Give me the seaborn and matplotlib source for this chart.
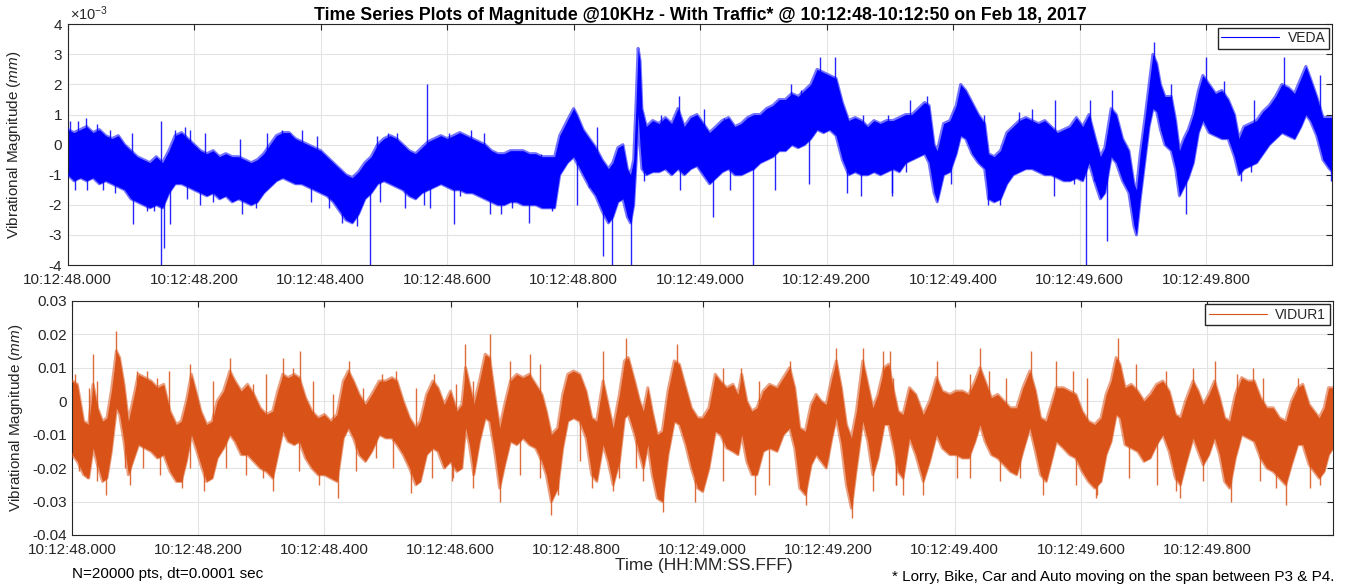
import numpy as np
import pandas as pd
import matplotlib
matplotlib.use("Agg")
import matplotlib.pyplot as plt
import seaborn as sns
from matplotlib.lines import Line2D

# ---------------- text ----------------
title = "Time Series Plots of Magnitude @10KHz - With Traffic* @ 10:12:48-10:12:50 on Feb 18, 2017"
xlabel = "Time (HH:MM:SS.FFF)"
ylabel = r"Vibrational Magnitude ($\it{mm}$)"
note_left = "N=20000 pts, dt=0.0001 sec"
note_right = "* Lorry, Bike, Car and Auto moving on the span between P3 & P4."
x_ticks = [0.0, 0.2, 0.4, 0.6, 0.8, 1.0, 1.2, 1.4, 1.6, 1.8]
x_tick_labels = ["10:12:48.000", "10:12:48.200", "10:12:48.400", "10:12:48.600",
                 "10:12:48.800", "10:12:49.000", "10:12:49.200", "10:12:49.400",
                 "10:12:49.600", "10:12:49.800"]
veda_yticks = [-4, -3, -2, -1, 0, 1, 2, 3, 4]
vidur_yticks = [-0.04, -0.03, -0.02, -0.01, 0, 0.01, 0.02, 0.03]
vidur_ytick_labels = ["-0.04", "-0.03", "-0.02", "-0.01", "0", "0.01", "0.02", "0.03"]

# ---------------- VEDA (units of 1e-3 mm): envelope of the dense band ----------------
veda_t = [0.000, 0.010, 0.020, 0.030, 0.040, 0.050, 0.060, 0.070, 0.080, 0.090,
          0.100, 0.110, 0.120, 0.130, 0.140, 0.150, 0.160, 0.170, 0.180, 0.190,
          0.200, 0.210, 0.220, 0.230, 0.240, 0.250, 0.260, 0.270, 0.280, 0.290,
          0.300, 0.310, 0.320, 0.330, 0.340, 0.350, 0.360, 0.370, 0.380, 0.390,
          0.400, 0.410, 0.420, 0.430, 0.440, 0.450, 0.460, 0.470, 0.480, 0.490,
          0.500, 0.510, 0.520, 0.530, 0.540, 0.550, 0.560, 0.570, 0.580, 0.590,
          0.600, 0.610, 0.620, 0.630, 0.640, 0.650, 0.660, 0.670, 0.680, 0.690,
          0.700, 0.710, 0.720, 0.730, 0.740, 0.750, 0.760, 0.770, 0.778, 0.790,
          0.800, 0.805, 0.815, 0.825, 0.835, 0.845, 0.855, 0.862, 0.870, 0.878,
          0.885, 0.890, 0.895, 0.899, 0.902, 0.905, 0.908, 0.915, 0.925, 0.935,
          0.945, 0.955, 0.965, 0.975, 0.985, 0.995, 1.005, 1.015, 1.025, 1.035,
          1.045, 1.055, 1.065, 1.075, 1.085, 1.095, 1.105, 1.115, 1.125, 1.135,
          1.145, 1.155, 1.165, 1.175, 1.185, 1.195, 1.205, 1.215, 1.225, 1.235,
          1.245, 1.255, 1.265, 1.275, 1.285, 1.295, 1.305, 1.315, 1.325, 1.335,
          1.345, 1.355, 1.362, 1.370, 1.375, 1.385, 1.395, 1.405, 1.412, 1.420,
          1.430, 1.440, 1.450, 1.456, 1.465, 1.475, 1.485, 1.495, 1.505, 1.515,
          1.525, 1.535, 1.545, 1.555, 1.565, 1.575, 1.585, 1.595, 1.605, 1.615,
          1.625, 1.633, 1.640, 1.650, 1.658, 1.668, 1.678, 1.686, 1.690, 1.696,
          1.703, 1.710, 1.716, 1.722, 1.728, 1.735, 1.745, 1.752, 1.758, 1.765,
          1.772, 1.780, 1.788, 1.795, 1.805, 1.815, 1.825, 1.835, 1.845, 1.852,
          1.860, 1.870, 1.880, 1.890, 1.900, 1.910, 1.920, 1.930, 1.940, 1.950,
          1.958, 1.965, 1.975, 1.985, 1.995, 2.000]
veda_upper = [0.5, 0.4, 0.5, 0.6, 0.4, 0.5, 0.3, 0.2, 0.3, 0.0,
              -0.2, -0.4, -0.5, -0.6, -0.4, -0.6, -0.2, 0.3, 0.4, 0.2,
              0.0, -0.2, -0.3, -0.2, -0.4, -0.3, -0.4, -0.4, -0.5, -0.6,
              -0.5, -0.3, 0.0, 0.3, 0.4, 0.4, 0.2, 0.1, 0.0, -0.1,
              -0.2, -0.4, -0.6, -0.8, -1.0, -1.1, -0.9, -0.6, -0.4, 0.0,
              0.2, 0.3, 0.2, 0.0, -0.2, -0.3, -0.1, 0.1, 0.2, 0.3,
              0.2, 0.3, 0.4, 0.3, 0.2, 0.1, 0.0, -0.2, -0.3, -0.3,
              -0.2, -0.2, -0.2, -0.3, -0.3, -0.4, -0.4, -0.4, 0.3, 0.8,
              1.2, 1.0, 0.5, 0.2, -0.1, -0.5, -0.8, -0.6, -0.1, 0.0,
              -0.8, -1.0, -0.5, 1.5, 3.2, 2.8, 1.2, 0.6, 0.8, 0.7,
              0.9, 0.7, 1.2, 0.6, 0.9, 1.0, 0.7, 0.4, 0.6, 0.8,
              0.9, 0.6, 0.7, 0.9, 1.0, 1.0, 1.2, 1.3, 1.5, 1.5,
              1.7, 1.6, 1.8, 2.0, 2.5, 2.4, 2.3, 2.2, 1.4, 0.8,
              0.9, 0.8, 0.6, 0.8, 0.7, 0.8, 0.8, 0.9, 1.0, 1.0,
              1.2, 1.4, 1.3, 0.0, -0.2, 0.7, 0.8, 1.3, 2.0, 1.8,
              1.4, 1.0, 0.7, -0.3, -0.4, -0.2, 0.4, 0.6, 0.8, 0.9,
              0.8, 0.7, 0.8, 0.6, 0.4, 0.5, 0.6, 0.9, 0.6, 1.0,
              0.2, -0.4, -0.1, 1.2, 1.0, 0.2, -0.2, -1.3, -1.5, -0.3,
              0.8, 2.0, 3.0, 2.7, 2.0, 1.6, 1.6, 0.8, -0.2, 0.2,
              0.5, 1.0, 1.8, 2.3, 2.0, 1.7, 1.8, 1.5, 1.0, 0.2,
              0.6, 0.7, 0.8, 1.1, 1.3, 1.6, 2.0, 1.9, 1.7, 2.2,
              2.6, 2.2, 1.6, 0.9, 0.9, 0.9]
veda_lower = [-1.0, -1.2, -1.1, -1.2, -1.1, -1.3, -1.2, -1.3, -1.4, -1.5,
              -1.8, -1.9, -2.0, -2.1, -2.0, -2.1, -1.6, -1.3, -1.3, -1.4,
              -1.5, -1.6, -1.7, -1.6, -1.8, -1.7, -1.9, -1.8, -1.9, -2.0,
              -1.9, -1.6, -1.4, -1.2, -1.1, -1.2, -1.3, -1.3, -1.4, -1.5,
              -1.6, -1.7, -1.9, -2.2, -2.5, -2.6, -2.3, -1.8, -1.6, -1.3,
              -1.2, -1.3, -1.4, -1.5, -1.7, -1.8, -1.6, -1.5, -1.4, -1.3,
              -1.4, -1.5, -1.5, -1.6, -1.6, -1.7, -1.8, -1.9, -2.0, -2.0,
              -1.9, -1.9, -2.0, -2.0, -2.0, -2.1, -2.1, -2.1, -1.0, -0.6,
              -0.4, -0.6, -1.0, -1.4, -1.7, -2.2, -2.6, -2.4, -1.9, -1.8,
              -2.4, -2.6, -2.0, -0.5, 1.0, 0.0, -0.8, -1.0, -0.9, -0.9,
              -0.8, -1.0, -0.8, -1.0, -0.8, -0.7, -1.0, -1.3, -1.1, -0.9,
              -0.8, -1.0, -1.0, -0.9, -0.8, -0.6, -0.5, -0.4, -0.2, -0.2,
              0.0, -0.1, 0.0, 0.2, 0.5, 0.4, 0.5, 0.3, -0.5, -1.0,
              -0.9, -1.0, -1.0, -0.9, -1.0, -0.9, -0.8, -0.9, -0.6, -0.5,
              -0.4, -0.3, -0.6, -1.6, -1.9, -1.0, -0.9, -0.3, 0.3, 0.2,
              -0.3, -0.6, -0.8, -1.8, -1.9, -1.8, -1.3, -1.0, -0.9, -0.8,
              -0.8, -0.9, -1.0, -1.0, -1.1, -1.2, -1.2, -1.1, -1.2, -0.6,
              -1.3, -1.8, -1.6, -0.4, -0.6, -1.2, -1.6, -2.7, -3.0, -1.8,
              -0.6, 0.6, 1.2, 1.1, 0.5, 0.0, -0.2, -0.8, -1.7, -1.4,
              -1.1, -0.6, 0.4, 0.8, 0.4, 0.3, 0.2, 0.2, -0.4, -1.0,
              -0.8, -0.7, -0.6, -0.3, 0.0, 0.2, 0.4, 0.3, 0.2, 0.6,
              1.0, 0.8, 0.3, -0.5, -0.8, -0.9]
# isolated spikes and hair tips beyond the dense band (time, tip value)
veda_spike_t = [0.103, 0.147, 0.148, 0.1525, 0.4776, 0.5684, 0.611, 0.685, 0.730,
                0.806, 0.846, 0.860, 0.890, 0.966, 1.020, 1.0844, 1.173, 1.233,
                1.559, 1.610, 1.644, 1.769,
                0.004, 0.016, 0.029, 0.046, 0.067, 0.101, 0.170, 0.186, 0.194, 0.217,
                0.273, 0.315, 0.339, 0.352, 0.370, 0.394, 0.489, 0.507, 0.521, 0.603,
                0.012, 0.030, 0.056, 0.075, 0.125, 0.137, 0.162, 0.188, 0.210, 0.230,
                0.276, 0.297, 0.384, 0.413, 0.434, 0.458, 0.494, 0.533, 0.563, 0.573,
                0.637, 0.658, 0.748, 0.837, 0.917, 0.938, 1.006, 1.038, 1.080, 1.104,
                1.144, 1.160, 1.190, 1.214, 1.257, 1.297,
                0.620, 0.668, 0.703, 0.766, 0.824, 0.911, 0.969, 1.048, 1.118, 1.254, 1.304,
                1.332, 1.359, 1.449, 1.504, 1.525, 1.562, 1.617, 1.652, 1.718, 1.744,
                1.800, 1.828, 1.876, 1.923, 1.981,
                1.303, 1.325, 1.396, 1.456, 1.475, 1.591, 1.623, 1.670, 1.855, 1.871, 1.997]
veda_spike_v = [-2.65, 0.8, -4.0, -3.45, -4.0, 2.0, -2.65, -2.3, -2.6,
                -2.0, -3.7, -4.0, -4.0, 1.6, -2.4, -4.0, -1.3, -1.6,
                -1.7, -4.0, -3.2, -2.3,
                0.8, 0.8, 0.9, 0.7, 0.5, 0.4, 0.5, 0.6, 0.5, 0.4,
                0.2, 0.4, 0.5, 0.4, 0.5, 0.3, 0.3, 0.4, 0.4, 0.4,
                -1.5, -1.5, -1.5, -1.6, -2.2, -2.2, -2.65, -1.8, -2.0, -1.9,
                -2.3, -2.1, -1.9, -2.1, -2.6, -2.7, -1.9, -2.1, -2.0, -2.1,
                0.5, 0.4, -0.3, 0.6, 0.6, 1.0, 1.2, 0.9, 0.9, 1.0,
                2.0, 1.8, 2.9, 2.9, 1.0, 1.0,
                -1.7, -2.3, -2.1, -2.2, -1.4, -1.2, -1.5, -1.5, -1.5, -1.7, -1.7,
                1.5, 1.6, 1.0, 1.1, 1.2, 1.5, 1.5, 1.8, 3.4, 2.0,
                2.9, 2.1, 1.5, 2.9, 2.3,
                -1.6, -0.9, -1.3, -2.0, -2.0, -1.3, -1.2, -1.2, -1.2, -0.9, -1.2]

# ---------------- VIDUR1 (units of 0.01 mm): envelope of the dense band ----------------
vidur_t = [0.000, 0.008, 0.018, 0.026, 0.033, 0.040, 0.048, 0.055, 0.062, 0.070,
           0.075, 0.082, 0.089, 0.096, 0.105, 0.115, 0.125, 0.135, 0.145, 0.155,
           0.165, 0.173, 0.181, 0.189, 0.196, 0.204, 0.213, 0.222, 0.230, 0.240,
           0.250, 0.258, 0.268, 0.278, 0.288, 0.298, 0.308, 0.318, 0.326, 0.334,
           0.342, 0.352, 0.360, 0.370, 0.380, 0.390, 0.400, 0.410, 0.420, 0.430,
           0.438, 0.446, 0.455, 0.465, 0.475, 0.487, 0.497, 0.507, 0.515, 0.525,
           0.535, 0.545, 0.552, 0.562, 0.572, 0.580, 0.590, 0.600, 0.610, 0.618,
           0.624, 0.630, 0.637, 0.646, 0.655, 0.662, 0.670, 0.678, 0.686, 0.695,
           0.705, 0.715, 0.725, 0.735, 0.745, 0.752, 0.760, 0.770, 0.778, 0.786,
           0.795, 0.805, 0.815, 0.824, 0.832, 0.842, 0.850, 0.858, 0.868, 0.876,
           0.882, 0.892, 0.900, 0.906, 0.913, 0.920, 0.928, 0.936, 0.945, 0.955,
           0.963, 0.973, 0.982, 0.992, 1.000, 1.010, 1.020, 1.028, 1.038, 1.048,
           1.056, 1.062, 1.070, 1.078, 1.086, 1.096, 1.106, 1.118, 1.128, 1.138,
           1.146, 1.154, 1.163, 1.172, 1.180, 1.188, 1.196, 1.205, 1.212, 1.220,
           1.228, 1.236, 1.244, 1.254, 1.262, 1.270, 1.278, 1.288, 1.295, 1.303,
           1.310, 1.318, 1.328, 1.338, 1.350, 1.360, 1.371, 1.380, 1.392, 1.402,
           1.412, 1.422, 1.432, 1.440, 1.448, 1.458, 1.468, 1.478, 1.488, 1.498,
           1.508, 1.519, 1.528, 1.536, 1.545, 1.553, 1.561, 1.572, 1.582, 1.592,
           1.602, 1.612, 1.622, 1.632, 1.640, 1.648, 1.656, 1.662, 1.670, 1.680,
           1.690, 1.700, 1.710, 1.720, 1.730, 1.740, 1.750, 1.758, 1.766, 1.778,
           1.786, 1.794, 1.803, 1.812, 1.820, 1.828, 1.836, 1.845, 1.855, 1.865,
           1.875, 1.885, 1.895, 1.905, 1.915, 1.925, 1.934, 1.944, 1.952, 1.962,
           1.970, 1.978, 1.986, 1.993, 2.000]
vidur_upper = [0.6, 0.5, -0.6, -0.7, 0.5, -0.2, -0.6, -0.5, 0.3, 1.5,
               1.3, 0.5, -0.6, 0.0, 0.8, 0.7, 0.6, 0.4, 0.5, -0.3,
               -0.7, -0.6, 0.0, 0.8, 0.3, -0.3, -0.7, -0.6, 0.0, 0.3,
               0.9, 0.6, 0.3, 0.5, 0.2, -0.2, -0.4, -0.3, 0.3, 0.8,
               0.7, 0.8, 0.7, 0.1, -0.3, -0.5, -0.4, -0.6, -0.4, 0.6,
               0.9, 0.6, 0.2, -0.1, 0.2, 0.6, 0.6, 0.7, 0.6, 0.0,
               -0.5, -0.8, -0.6, 0.2, 0.6, 0.4, -0.1, 0.3, -0.3, -0.1,
               1.0, 0.5, -0.1, 0.6, 1.4, 1.3, 0.2, -0.8, -0.1, 0.6,
               0.8, 0.7, 0.8, 0.5, 0.2, -0.3, -1.0, -0.8, 0.2, 0.8,
               0.9, 0.8, 0.3, -0.5, -0.6, 0.6, -0.1, -0.8, 0.2, 1.2,
               1.3, 0.6, 0.0, -0.3, 0.4, -0.3, -1.0, -0.9, 0.3, 1.2,
               1.1, 0.4, -0.2, -0.5, -0.5, -0.2, 0.8, 0.6, 0.4, 0.5,
               0.2, 0.8, 0.0, -0.3, -0.2, 0.3, 0.5, 0.4, 0.7, 1.0,
               0.4, -0.8, -0.9, -0.1, 0.2, 0.0, -0.1, 0.7, 1.2, 0.4,
               -0.7, -1.1, -0.3, 1.2, 0.5, -0.2, 0.2, 1.0, 1.1, 0.3,
               -0.3, -0.4, 0.4, 0.2, -0.4, 0.0, 0.7, 0.3, 0.2, 0.3,
               0.3, 0.2, 0.6, 1.0, 0.6, 0.1, 0.2, 0.0, -0.2, -0.2,
               0.4, 0.9, 0.3, -0.5, -0.6, -0.1, 0.4, 0.4, 0.3, 0.2,
               -0.3, -0.6, -0.7, -0.5, 0.2, 0.6, 1.3, 1.1, 0.4, 0.5,
               0.3, 0.0, 0.2, 0.5, 0.6, 0.3, -0.4, -0.5, 0.0, 0.6,
               0.3, -0.1, 0.2, 0.6, 0.1, -0.5, -0.6, 0.2, 0.7, 0.6,
               0.6, 0.1, -0.2, -0.2, -0.5, -0.6, 0.0, 0.4, 0.5, -0.1,
               -0.3, -0.5, -0.2, 0.4, 0.4]
vidur_lower = [-1.6, -1.8, -2.2, -2.3, -1.4, -1.9, -2.4, -2.3, -1.5, -0.2,
               -0.4, -1.2, -2.2, -1.8, -1.3, -1.4, -1.5, -1.7, -1.6, -2.1,
               -2.4, -2.4, -1.8, -1.0, -1.4, -1.9, -2.4, -2.3, -1.7, -1.4,
               -1.0, -1.2, -1.6, -1.6, -1.8, -2.0, -2.1, -2.3, -1.6, -0.9,
               -1.2, -1.3, -1.2, -1.7, -2.0, -2.2, -2.2, -2.3, -2.4, -1.1,
               -0.8, -1.1, -1.6, -1.8, -1.5, -1.0, -1.1, -1.1, -1.3, -1.6,
               -2.0, -2.5, -2.4, -1.6, -1.4, -1.5, -2.0, -1.8, -2.1, -2.0,
               -0.8, -1.3, -2.2, -1.2, -0.5, -0.6, -1.5, -2.6, -1.9, -1.2,
               -1.3, -1.1, -1.3, -1.4, -1.8, -2.2, -3.0, -2.6, -1.4, -0.6,
               -0.5, -0.6, -1.1, -2.2, -2.4, -1.3, -1.8, -2.5, -1.8, -0.5,
               -0.4, -1.0, -1.6, -2.0, -1.3, -2.2, -2.9, -3.0, -1.6, -0.6,
               -0.7, -1.3, -2.0, -2.6, -2.7, -2.0, -0.9, -1.0, -1.4, -1.5,
               -1.6, -1.0, -1.8, -2.2, -2.2, -1.5, -1.4, -1.5, -1.0, -0.8,
               -1.4, -2.6, -2.8, -1.9, -1.6, -1.8, -2.0, -1.1, -0.5, -1.3,
               -2.5, -3.2, -2.0, -0.6, -1.2, -2.2, -1.7, -0.7, -0.7, -1.4,
               -2.1, -2.3, -1.1, -1.6, -2.4, -1.8, -1.0, -1.4, -1.6, -1.6,
               -1.7, -1.7, -1.2, -0.7, -1.2, -1.6, -1.7, -1.9, -2.1, -2.2,
               -1.5, -0.8, -1.5, -2.2, -2.4, -1.8, -1.2, -1.4, -1.6, -1.7,
               -2.1, -2.4, -2.6, -2.4, -1.6, -1.2, -0.4, -0.5, -1.3, -1.4,
               -1.5, -1.8, -1.7, -1.3, -1.0, -1.5, -2.3, -2.5, -1.9, -1.1,
               -1.5, -1.9, -1.6, -1.1, -1.6, -2.4, -2.6, -1.7, -1.0, -1.1,
               -1.2, -1.7, -2.0, -2.1, -2.3, -2.5, -1.9, -1.3, -1.3, -1.9,
               -2.1, -2.3, -2.1, -1.6, -1.4]
vidur_spike_t = [0.033, 0.053, 0.070, 0.092, 0.154, 0.174, 0.187, 0.209, 0.250, 0.318,
                 0.334, 0.362, 0.421, 0.439, 0.537, 0.574,
                 0.623, 0.662, 0.678, 0.760, 0.771, 0.842, 0.858, 0.879, 0.937,
                 0.959, 0.988, 1.138, 1.164, 1.212, 1.237, 1.254, 1.286,
                 1.297, 1.318, 1.350, 1.440, 1.521, 1.540, 1.624, 1.659, 1.735,
                 1.757, 1.838, 1.873, 1.926,
                 0.004, 0.027, 0.040, 0.102, 0.118, 0.134, 0.223, 0.287, 0.308, 0.350,
                 0.382, 0.413, 0.461, 0.492, 0.513, 0.545, 0.608,
                 0.010, 0.023, 0.039, 0.083, 0.112, 0.139, 0.186, 0.244, 0.276, 0.302,
                 0.360, 0.392, 0.450, 0.482, 0.508, 0.571, 0.603,
                 0.636, 0.694, 0.726, 0.742, 1.032, 1.061, 1.090, 1.302,
                 0.604, 0.636, 0.710, 0.742, 0.805, 0.824, 0.868, 0.895, 0.906, 1.032,
                 1.083, 1.106, 1.270, 1.307,
                 1.371, 1.424, 1.455, 1.482, 1.561, 1.588, 1.609, 1.688, 1.778, 1.812,
                 1.847, 1.889, 1.944,
                 1.307, 1.403, 1.424, 1.471, 1.503, 1.593, 1.625, 1.677, 1.720, 1.751,
                 1.794, 1.884, 1.910, 1.963, 1.979]
vidur_spike_v = [1.4, -2.8, 2.1, -2.5, 0.9, -2.6, 1.1, -2.7, 1.3, -2.7,
                 1.3, 1.5, -2.9, 1.2, -2.75, 0.8,
                 1.7, 2.0, -3.0, -3.4, -2.8, 1.5, -2.7, 1.9, -3.3,
                 1.7, -3.0, 1.2, -3.1, 1.6, -3.5, 1.6, 1.5,
                 1.5, -2.8, -2.8, 1.6, 1.5, -2.8, -2.9, 1.9, 0.9,
                 -2.9, -3.0, 1.0, -3.1,
                 0.8, 0.4, 0.6, 0.9, 0.9, 0.7, 0.6, 0.5, 0.8, 1.0,
                 0.6, 0.2, 0.4, 0.8, 0.9, 0.4, 0.5,
                 -2.1, -2.3, -2.4, -2.0, -2.0, -2.2, -2.0, -2.0, -2.2, -2.3,
                 -2.1, -2.5, -2.1, -1.7, -2.0, -2.3, -2.4,
                 0.6, 1.2, 1.4, 1.1, 1.0, 1.0, 0.6, 0.7,
                 -2.3, -2.6, -2.2, -2.3, -1.8, -2.6, -2.3, -2.0, -2.4, -2.4,
                 -2.8, -2.5, -2.7, -2.5,
                 1.2, 0.8, 0.9, 0.7, 1.2, 0.9, 0.7, 1.1, 1.0, 1.2,
                 0.8, 0.7, 0.7,
                 -2.5, -2.3, -2.3, -2.4, -2.3, -2.5, -2.8, -2.3, -2.5, -2.7,
                 -2.4, -2.4, -2.6, -2.6, -2.5]

# ---------------- styling ----------------
sns.set_theme(style="whitegrid")
plt.rcParams["font.family"] = ["Liberation Sans", "DejaVu Sans"]
plt.rcParams["mathtext.fontset"] = "custom"
plt.rcParams["mathtext.it"] = "Liberation Sans:italic"
plt.rcParams["mathtext.rm"] = "Liberation Sans"

blue = "#0000FF"
orange = "#D95319"
edge = "#262626"
gridc = "#E3E3E3"
fs = 11

fig = plt.figure(figsize=(13.51, 5.85), dpi=100)
ax1 = fig.add_axes([0.0501, 0.547, 0.9362, 0.4115])
ax2 = fig.add_axes([0.0535, 0.0855, 0.9332, 0.4005])

def style(ax):
    ax.set_facecolor("white")
    for s in ax.spines.values():
        s.set_color(edge)
        s.set_linewidth(0.8)
        s.set_visible(True)
    ax.grid(True, color=gridc, linewidth=0.8)
    ax.tick_params(direction="in", top=True, right=True, length=4, width=0.8,
                   color=edge, labelcolor="#262626", labelsize=fs)
    ax.tick_params(axis="x", pad=6)
    ax.tick_params(axis="y", pad=4)
    ax.set_xlim(0, 2.0)
    ax.set_xticks(x_ticks)
    ax.set_xticklabels(x_tick_labels)
    ax.set_xlabel("")

def draw(ax, t, up, lo, sp_t, sp_v, color, scale, label):
    t = np.asarray(t); up = np.asarray(up) * scale; lo = np.asarray(lo) * scale
    ax.fill_between(t, lo, up, color=color, linewidth=0, zorder=2)
    df = pd.DataFrame({"t": np.concatenate([t, t]),
                       "v": np.concatenate([up, lo]),
                       "edge": ["upper"] * len(t) + ["lower"] * len(t)})
    sns.lineplot(data=df, x="t", y="v", units="edge", estimator=None, color=color,
                 linewidth=2.2, alpha=0.55, ax=ax, legend=False, zorder=3)
    sp_t = np.asarray(sp_t); sp_v = np.asarray(sp_v) * scale
    base = np.interp(sp_t, t, (up + lo) / 2)
    ax.vlines(sp_t, base, sp_v, color=color, linewidth=1.0, alpha=0.85, zorder=3)
    ax.legend(handles=[Line2D([], [], color=color, linewidth=0.8)], labels=[label],
              loc="upper right", fontsize=10, frameon=True, fancybox=False,
              edgecolor=edge, framealpha=1, borderpad=0.25, handlelength=4.2,
              borderaxespad=0.25, handletextpad=0.6)
    ax.set_xlabel("")
    ax.set_ylabel(ylabel, fontsize=11, color="#262626")

draw(ax1, veda_t, veda_upper, veda_lower, veda_spike_t, veda_spike_v, blue, 1.0, "VEDA")
style(ax1)
ax1.set_ylim(-4, 4)
ax1.set_yticks(veda_yticks)
ax1.set_yticklabels([str(v) for v in veda_yticks])
ax1.text(0.002, 1.004, r"$\times10^{-3}$", transform=ax1.transAxes, fontsize=10.5,
         color="#262626", ha="left", va="bottom")
ax1.set_title(title, fontsize=12.8, fontweight="bold", pad=3, color="black")

draw(ax2, vidur_t, vidur_upper, vidur_lower, vidur_spike_t, vidur_spike_v, orange, 0.01, "VIDUR1")
style(ax2)
ax2.set_ylim(-0.04, 0.03)
ax2.set_yticks(vidur_yticks)
ax2.set_yticklabels(vidur_ytick_labels)
ax1.yaxis.set_label_coords(-0.0355, 0.5)
ax2.yaxis.set_label_coords(-0.0375, 0.5)

fig.text(0.521, 0.034, xlabel, ha="center", va="center", fontsize=12.5, color="#262626")
fig.text(0.053, 0.018, note_left, ha="left", va="center", fontsize=11, color="black")
fig.text(0.988, 0.014, note_right, ha="right", va="center", fontsize=11, color="black")

fig.savefig("out.png", dpi=100)
